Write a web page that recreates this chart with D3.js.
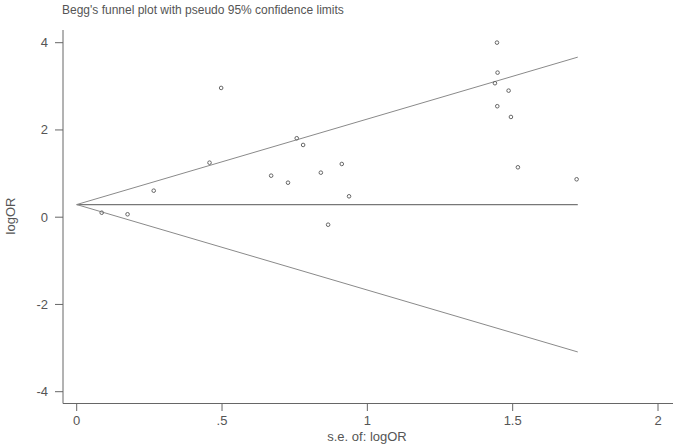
<!DOCTYPE html>
<html><head><meta charset="utf-8">
<script src="https://cdn.jsdelivr.net/npm/d3@7"></script>
<style>body{margin:0;background:#fff}svg{display:block}text{font-family:"Liberation Sans",Arial,sans-serif}</style>
</head><body><div id="chart"></div>
<script>
const seValues = [0.086,0.175,0.265,0.457,0.497,0.669,0.727,0.757,0.779,0.840,0.865,0.912,0.937,1.446,1.448,1.439,1.486,1.447,1.494,1.518,1.720];
const logOR    = [0.103,0.067,0.608,1.25,2.963,0.952,0.791,1.81,1.656,1.021,-0.172,1.22,0.479,4.002,3.314,3.071,2.901,2.544,2.298,1.144,0.869];
const pooled = 0.29;
const seMax = 1.724;
const xTicks = [0,0.5,1,1.5,2];
const xTickLabels = ["0",".5","1","1.5","2"];
const yTicks = [-4,-2,0,2,4];
const titleText = "Begg's funnel plot with pseudo 95% confidence limits";

const W=675,H=446;
const svg=d3.select("#chart").append("svg").attr("width",W).attr("height",H);
const x=d3.scaleLinear().domain([0,2]).range([76.7,658]);
const y=d3.scaleLinear().domain([-4,4]).range([391.7,42.7]);
const axisColor="#666", textColor="#555";

svg.append("line").attr("x1",63).attr("x2",63).attr("y1",30).attr("y2",403.5).attr("stroke",axisColor).attr("stroke-width",1);
svg.append("line").attr("x1",63).attr("x2",673).attr("y1",403.5).attr("y2",403.5).attr("stroke",axisColor).attr("stroke-width",1);

yTicks.forEach(t=>{
  svg.append("line").attr("x1",55).attr("x2",63).attr("y1",y(t)).attr("y2",y(t)).attr("stroke",axisColor);
  svg.append("text").attr("x",48).attr("y",y(t)+4.5).attr("text-anchor","end").attr("font-size",13).attr("fill",textColor).text(t);
});
xTicks.forEach((t,i)=>{
  svg.append("line").attr("x1",x(t)).attr("x2",x(t)).attr("y1",403.5).attr("y2",411).attr("stroke",axisColor);
  svg.append("text").attr("x",x(t)).attr("y",425).attr("text-anchor","middle").attr("font-size",13).attr("fill",textColor).text(xTickLabels[i]);
});
svg.append("text").attr("transform","translate(15,216) rotate(-90)").attr("text-anchor","middle").attr("font-size",13).attr("fill",textColor).text("logOR");
svg.append("text").attr("x",367).attr("y",441).attr("text-anchor","middle").attr("font-size",13).attr("fill",textColor).text("s.e. of: logOR");
svg.append("text").attr("x",62).attr("y",14).attr("font-size",12).attr("fill",textColor).text(titleText);

const lineCol="#8a8a8a";
svg.append("line").attr("x1",x(0)).attr("y1",y(pooled)).attr("x2",x(seMax)).attr("y2",y(pooled)).attr("stroke","#777").attr("stroke-width",1.2);
svg.append("line").attr("x1",x(0)).attr("y1",y(pooled)).attr("x2",x(seMax)).attr("y2",y(pooled+1.96*seMax)).attr("stroke",lineCol).attr("stroke-width",1);
svg.append("line").attr("x1",x(0)).attr("y1",y(pooled)).attr("x2",x(seMax)).attr("y2",y(pooled-1.96*seMax)).attr("stroke",lineCol).attr("stroke-width",1);

svg.selectAll("circle.pt").data(seValues.map((s,i)=>({s,v:logOR[i]}))).enter().append("circle")
  .attr("cx",d=>x(d.s)).attr("cy",d=>y(d.v)).attr("r",1.8).attr("fill","none").attr("stroke","#666").attr("stroke-width",1);
</script></body></html>
